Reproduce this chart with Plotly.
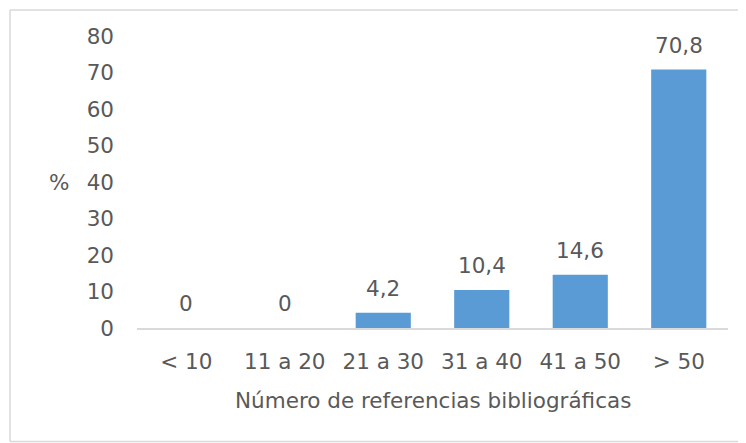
import plotly.graph_objects as go

categories = ["< 10", "11 a 20", "21 a 30", "31 a 40", "41 a 50", "> 50"]
percentages = [0, 0, 4.2, 10.4, 14.6, 70.8]
y_ticks = [0, 10, 20, 30, 40, 50, 60, 70, 80]
x_title = "Número de referencias bibliográficas"
y_title = "%"

OFF = 8  # default page body margin
W, H = 746 - OFF, 443 - OFF  # keep the figure inside the window
PL, PR, PT, PB = 137, 728, 36, 328  # plot area in page pixels
pw, ph = PR - PL, PB - PT
L, T = PL - OFF, PT - OFF
R, B = W - L - pw, H - T - ph

FONT = "DejaVu Sans, Liberation Sans, Arial"
GREY = "#595959"
FS = 21.5

def fmt(v):
    return ("%g" % v).replace(".", ",")

def px_x(p):
    return (p - PL) / pw

def px_y(p):
    return (PB - p) / ph

fig = go.Figure()
fig.add_trace(go.Bar(
    x=categories, y=percentages,
    marker=dict(color="#5B9BD5", line=dict(width=0)),
    hoverinfo="x+y",
))

for c, v in zip(categories, percentages):
    fig.add_annotation(x=c, y=v, text=fmt(v), showarrow=False,
                       yanchor="bottom", yshift=10,
                       font=dict(family=FONT, size=FS, color=GREY))

fig.add_annotation(x=px_x(59), xref="paper", y=40, yref="y", text=y_title,
                   showarrow=False, xanchor="center",
                   font=dict(family=FONT, size=FS, color=GREY))
fig.add_annotation(x=0.5, xref="paper", y=px_y(400), yref="paper",
                   text=x_title, showarrow=False, yanchor="middle",
                   font=dict(family=FONT, size=FS, color=GREY))

border = dict(color="#D9D9D9", width=1.5)
# chart frame: top, left and bottom edges (right edge is outside the picture)
fig.add_shape(type="line", xref="paper", yref="paper",
              x0=px_x(10), x1=px_x(800), y0=px_y(10), y1=px_y(10),
              line=border, layer="below")
fig.add_shape(type="line", xref="paper", yref="paper",
              x0=px_x(10), x1=px_x(10), y0=px_y(10), y1=px_y(441.5),
              line=border, layer="below")
fig.add_shape(type="line", xref="paper", yref="paper",
              x0=px_x(10), x1=px_x(800), y0=px_y(441.5), y1=px_y(441.5),
              line=border, layer="below")

fig.update_layout(
    width=W, height=H,
    margin=dict(l=L, r=R, t=T, b=B, autoexpand=False),
    paper_bgcolor="white", plot_bgcolor="white",
    bargap=0.44, showlegend=False,
    font=dict(family=FONT, size=FS, color=GREY),
)
fig.update_xaxes(showline=True, linecolor="#D9D9D9", linewidth=1.5,
                 showgrid=False, ticks="", ticklabelstandoff=13,
                 automargin=False,
                 tickfont=dict(family=FONT, size=FS, color=GREY))
fig.update_yaxes(range=[0, 80], tickvals=y_ticks, showgrid=False,
                 showline=False, zeroline=False, ticks="",
                 ticklabelstandoff=22, automargin=False,
                 tickfont=dict(family=FONT, size=FS, color=GREY))

fig.write_html(
    "out.html",
    post_script="document.documentElement.style.overflow='hidden';"
                "document.body.style.overflow='hidden';",
)
